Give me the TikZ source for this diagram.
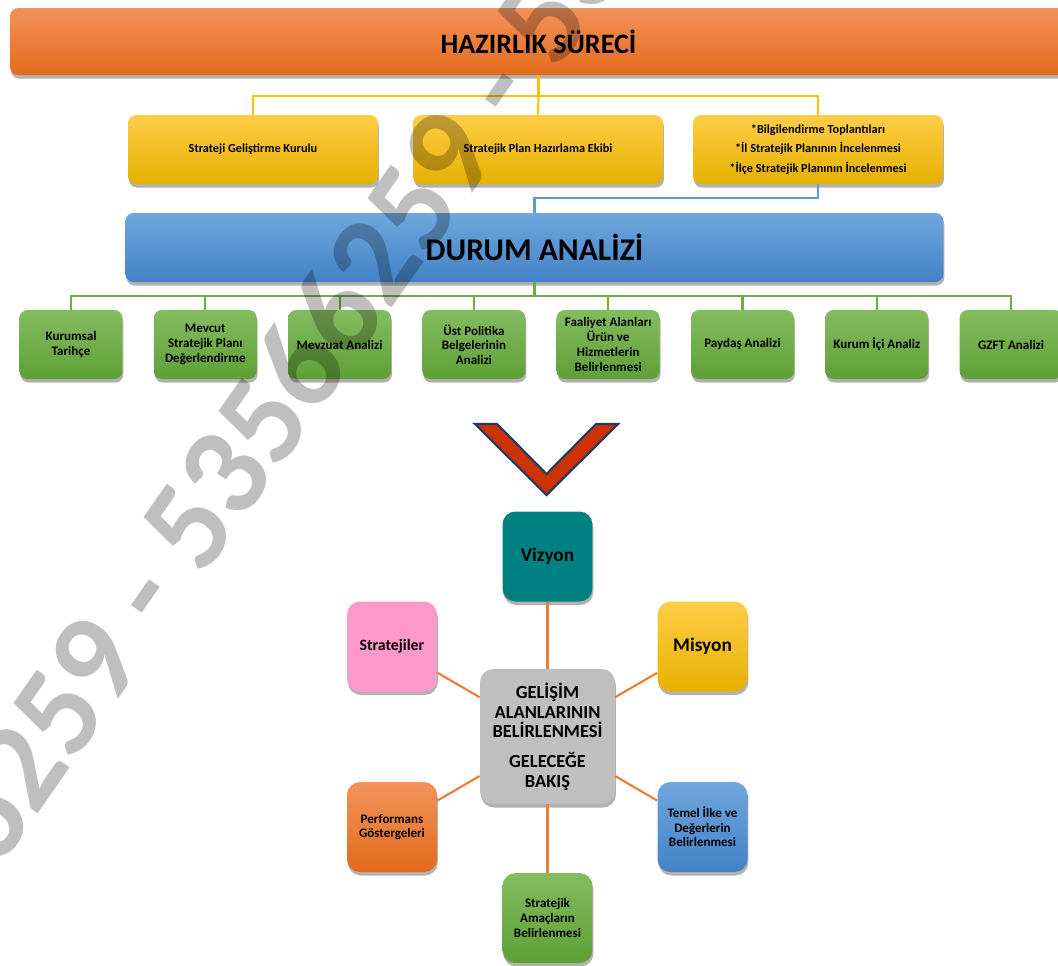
\documentclass[tikz,border=0pt]{standalone}
\usepackage{fontspec}
\setmainfont{Carlito}
\usetikzlibrary{shadows}
\definecolor{orTop}{RGB}{243,146,92}
\definecolor{orMid}{RGB}{245,127,42}
\definecolor{orBot}{RGB}{227,107,26}
\definecolor{yeTop}{RGB}{255,205,72}
\definecolor{yeMid}{RGB}{255,193,0}
\definecolor{yeBot}{RGB}{230,177,0}
\definecolor{blTop}{RGB}{112,167,221}
\definecolor{blMid}{RGB}{88,153,219}
\definecolor{blBot}{RGB}{66,130,199}
\definecolor{grTop}{RGB}{132,188,96}
\definecolor{grMid}{RGB}{112,173,71}
\definecolor{grBot}{RGB}{94,160,54}
\definecolor{hubGray}{RGB}{191,191,191}
\definecolor{hubTeal}{RGB}{0,128,128}
\definecolor{hubPink}{RGB}{255,153,204}
\definecolor{chevFill}{RGB}{204,51,0}
\definecolor{chevEdge}{RGB}{31,56,100}
\definecolor{yeLine}{RGB}{255,192,0}
\definecolor{blLine}{RGB}{91,155,213}
\definecolor{grLine}{RGB}{112,173,71}
\definecolor{orLine}{RGB}{237,125,49}
\tikzset{shadebox/.style={rounded corners=0.16cm, align=center, inner sep=1pt,
  drop shadow={shadow xshift=0.5pt, shadow yshift=-2pt, opacity=0.3, fill=black}}}
\newcommand{\drawbar}{\node[shadebox, top color=orTop, middle color=orMid, bottom color=orBot, minimum width=21.14cm, minimum height=1.34cm, font=\fontsize{16}{19}\selectfont\bfseries]}
\newcommand{\drawyellow}{\node[shadebox, top color=yeTop, middle color=yeMid, bottom color=yeBot, minimum width=5cm, minimum height=1.38cm, font=\fontsize{7}{11.3}\selectfont\bfseries]}
\newcommand{\drawblue}{\node[shadebox, top color=blTop, middle color=blMid, bottom color=blBot, minimum width=16.36cm, minimum height=1.38cm, font=\fontsize{18}{21}\selectfont\bfseries]}
\newcommand{\drawgreen}{\node[shadebox, top color=grTop, middle color=grMid, bottom color=grBot, minimum width=2.06cm, minimum height=1.38cm, font=\fontsize{7.4}{8.4}\selectfont\bfseries]}
\newcommand{\drawhub}{\node[shadebox, rounded corners=0.26cm, minimum size=1.8cm, font=\fontsize{7.4}{8.3}\selectfont\bfseries]}

\begin{document}
\begin{tikzpicture}[x=0.02cm, y=-0.02cm]
\useasboundingbox (0,0) rectangle (1058,965);
\clip (0,0) rectangle (1058,965);

%hazirlik
\drawbar (hazirlik) at (538.5,41.5) {HAZIRLIK SÜRECİ};
\drawyellow (kurul) at (253,149.5) {Strateji Geliştirme Kurulu};
\drawyellow (ekip) at (538,149.5) {Stratejik Plan Hazırlama Ekibi};
\drawyellow (brifing) at (818,149.5) {*Bilgilendirme Toplantıları\\{*}İl Stratejik Planının İncelenmesi\\{*}İlçe Stratejik Planının İncelenmesi};
\coordinate (yeBus) at (538.5,96);
\draw[yeLine, line width=1.2pt] (hazirlik.south) to (yeBus) -| (kurul.north);
\draw[yeLine, line width=1.2pt] (yeBus) -| (brifing.north);
\draw[yeLine, line width=1.2pt] (yeBus) to (ekip.north);

%durum analizi
\drawblue (durum) at (534.5,247.5) {DURUM ANALİZİ};
\coordinate (blBus) at (534.5,198);
\draw[blLine, line width=1.2pt] (brifing.south) |- (blBus) to (durum.north);

\drawgreen (tarihce) at (71,344.5) {Kurumsal\\Tarihçe};
\drawgreen (mevcut) at (205.3,344.5) {Mevcut\\Stratejik Planı\\Değerlendirme};
\drawgreen (mevzuat) at (339.6,344.5) {Mevzuat Analizi};
\drawgreen (ustpol) at (473.9,344.5) {Üst Politika\\Belgelerinin\\Analizi};
\drawgreen (faaliyet) at (608.2,344.5) {Faaliyet Alanları\\Ürün ve\\Hizmetlerin\\Belirlenmesi};
\drawgreen (paydas) at (742.5,344.5) {Paydaş Analizi};
\drawgreen (kurumici) at (876.8,344.5) {Kurum İçi Analiz};
\drawgreen (gzft) at (1011.1,344.5) {GZFT Analizi};
\coordinate (grBus) at (534.5,296);
\draw[grLine, line width=1.2pt] (durum.south) to (grBus);
\foreach \n in {tarihce,mevcut,mevzuat,ustpol,faaliyet,paydas,kurumici,gzft}
  \draw[grLine, line width=1.2pt] (grBus) -| (\n.north);

%chevron
\draw[chevEdge, fill=chevFill, line width=1.2pt] (475,424) -- (497,424) -- (546.5,474) -- (596,424) -- (618,424) -- (546.5,495) -- cycle;

%gelecege bakis
\drawhub (merkez) at (547.5,736.5) [fill=hubGray, minimum size=2.7cm, font=\fontsize{10.5}{11.3}\selectfont\bfseries] {GELİŞİM\\ALANLARININ\\BELİRLENMESİ\\[5.5pt]GELECEĞE\\BAKIŞ};
\drawhub (vizyon) at (547.5,556.5) [fill=hubTeal, font=\fontsize{11}{13}\selectfont\bfseries] {Vizyon};
\drawhub (misyon) at (702.5,646.5) [top color=yeTop, middle color=yeMid, bottom color=yeBot, font=\fontsize{11}{13}\selectfont\bfseries] {Misyon};
\drawhub (temel) at (702.5,827) [top color=blTop, middle color=blMid, bottom color=blBot] {Temel İlke ve\\Değerlerin\\Belirlenmesi};
\drawhub (amac) at (547.5,918) [top color=grTop, middle color=grMid, bottom color=grBot] {Stratejik\\Amaçların\\Belirlenmesi};
\drawhub (perf) at (392,827) [top color=orTop, middle color=orMid, bottom color=orBot] {Performans\\Göstergeleri};
\drawhub (strat) at (392,646.5) [fill=hubPink, font=\fontsize{9}{11}\selectfont\bfseries] {Stratejiler};
\foreach \n in {vizyon,misyon,temel,amac,perf,strat}
  \draw[orLine, line width=1.2pt] (merkez) -- (\n);

%filigran
\node[rotate=55, inner sep=0, text=black, text opacity=0.25, font=\fontsize{73}{73}\selectfont\bfseries] (filigran) at (317,340) {53566259 - 53566259 - 53566259};
\end{tikzpicture}
\end{document}
